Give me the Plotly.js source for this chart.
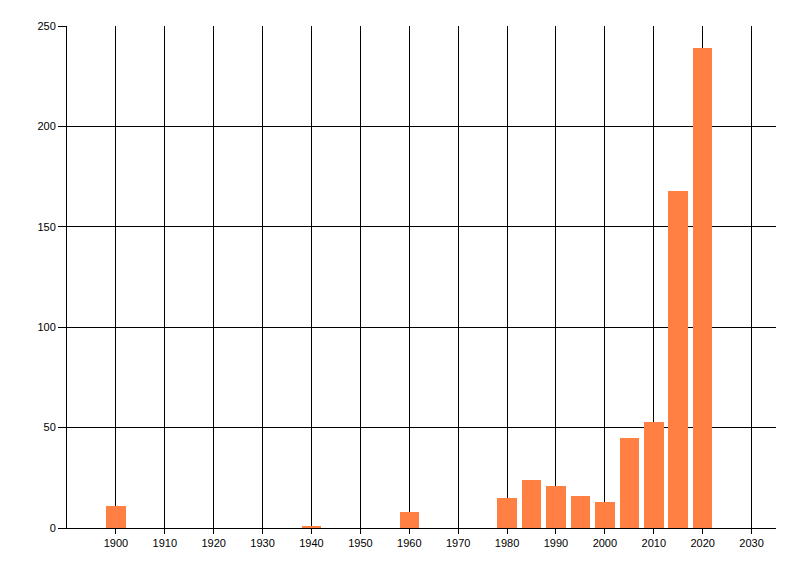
<!DOCTYPE html>
<html>
<head>
<meta charset="utf-8">
<script src="https://cdn.plot.ly/plotly-3.0.1.min.js"></script>
<style>html,body{margin:0;padding:0;background:#fff;}#chart{width:800px;height:576px;}</style>
</head>
<body>
<div id="chart"></div>
<script>
const years = [1900, 1940, 1960, 1980, 1985, 1990, 1995, 2000, 2005, 2010, 2015, 2020];
const counts = [11, 1, 8, 15, 24, 21, 16, 13, 45, 53, 168, 239];
const xTicks = [1900, 1910, 1920, 1930, 1940, 1950, 1960, 1970, 1980, 1990, 2000, 2010, 2020, 2030];
const yTicks = [0, 50, 100, 150, 200, 250];
const barColor = '#ff8042';

const trace = {
  type: 'bar',
  x: years,
  y: counts,
  width: 4,
  marker: {color: barColor, line: {width: 0}},
  hoverinfo: 'x+y'
};

const layout = {
  width: 800,
  height: 576,
  margin: {l: 66.7, r: 24.3, t: 26, b: 48, pad: 0},
  paper_bgcolor: '#ffffff',
  plot_bgcolor: '#ffffff',
  showlegend: false,
  font: {family: '"Liberation Sans", Arial, sans-serif', size: 11, color: '#000000'},
  xaxis: {
    range: [1890, 2035],
    tickmode: 'array',
    tickvals: xTicks,
    ticktext: xTicks.map(String),
    showgrid: true,
    gridcolor: '#000000',
    gridwidth: 1,
    zeroline: false,
    showline: true,
    linecolor: '#000000',
    linewidth: 1,
    ticks: 'outside',
    ticklen: 5,
    tickcolor: '#000000',
    tickfont: {size: 11, color: '#000000'}
  },
  yaxis: {
    range: [0, 250],
    tickmode: 'array',
    tickvals: yTicks,
    ticktext: yTicks.map(String),
    showgrid: true,
    gridcolor: '#000000',
    gridwidth: 1,
    zeroline: false,
    showline: true,
    linecolor: '#000000',
    linewidth: 1,
    ticks: 'outside',
    ticklen: 8,
    tickcolor: '#000000',
    tickfont: {size: 11, color: '#000000'}
  },
  bargap: 0
};

Plotly.newPlot('chart', [trace], layout, {displayModeBar: false, staticPlot: true});
</script>
</body>
</html>
